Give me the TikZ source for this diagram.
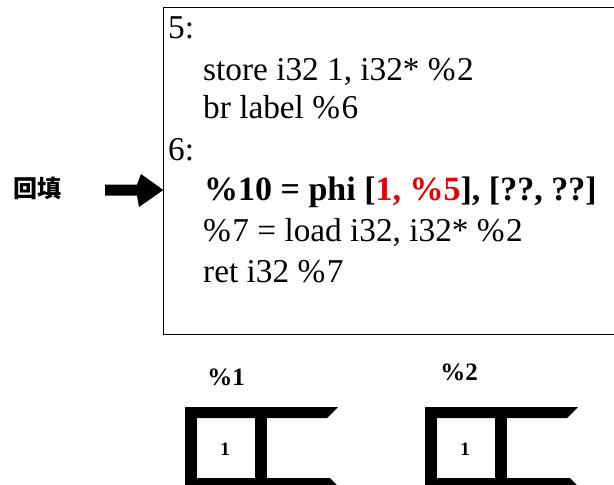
\documentclass[tikz,border=0pt]{standalone}
\usepackage{fontspec}
\setmainfont{Liberation Serif}
\newfontfamily\cjkfont{Noto Sans CJK SC}
\definecolor{hlred}{RGB}{230,0,0}
\newcommand{\pct}{\%\kern1.5pt}
\begin{document}
\begin{tikzpicture}[x=1pt,y=-1pt,
  codeline/.style={anchor=base west, inner sep=0pt, font=\fontsize{33.3}{40}\selectfont},
  varlabel/.style={anchor=base, inner sep=0pt, font=\fontsize{25}{30}\selectfont\bfseries},
  cellval/.style={inner sep=0pt, font=\fontsize{19}{22}\selectfont\bfseries},
  cell/.pic={
    \fill (0,0) -- (153,0) -- (142,11) -- (0,11) -- cycle;
    \fill (0,0) rectangle (12,90);
    \fill (70,0) rectangle (82,90);
    \fill (0,71) -- (145,71) -- (155,81) -- (155,90) -- (0,90) -- cycle;
  }]
\useasboundingbox (0,0) rectangle (614,485);
\clip (0,0) rectangle (614,485);
% code box (open to the right, beyond the page)
\draw[line width=1.4pt] (640,7.3) -- (163.3,7.3) -- (163.3,334.3) -- (640,334.3);
\node[codeline] (l1) at (168,38.3) {5:};
\node[codeline] (l2) at (203,80) {store i32 1, i32* \pct2};
\node[codeline] (l3) at (203,118.5) {br label \pct6};
\node[codeline] (l4) at (168,160) {6:};
\node[codeline, font=\fontsize{34}{40}\selectfont\bfseries] (l5) at (204,200) {\%10 = phi [{\color{hlred}1, \%5}], [??, ??]};
\node[codeline] (l6) at (203,241.7) {\pct7 = load i32, i32* \pct2};
\node[codeline] (l7) at (203,282.7) {ret i32 \pct7};
% back-fill label and arrow
\node[anchor=west, inner sep=0pt, font=\fontsize{24}{26}\selectfont\cjkfont\bfseries] (fill) at (13,188) {回填};
\coordinate (tip) at (163.3,190);
\fill (105,184.5) -- (137,184.5) -- (141,174) -- (tip) -- (139,207) -- (137,195.5) -- (105,195.5) -- cycle;
% memory cells
\node[varlabel] (v1) at (226,385) {\%1};
\node[varlabel] (v2) at (459,380) {\%2};
\pic at (185,407) {cell};
\pic at (425,407) {cell};
\node[cellval] (c1) at (225,449) {1};
\node[cellval] (c2) at (465,449) {1};
\end{tikzpicture}
\end{document}
